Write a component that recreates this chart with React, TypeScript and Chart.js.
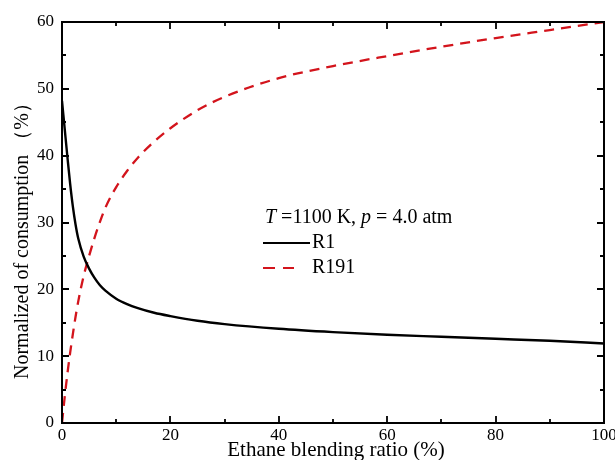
import React, { useEffect, useRef } from "react";
import { Chart, registerables } from "chart.js";
Chart.register(...registerables);

const blendRatio = [0, 0.5, 1, 1.5, 2, 2.5, 3, 4, 5, 6, 7, 8, 10, 12, 14, 17, 20, 25, 30, 40, 50, 60, 70, 80, 90, 100];
const r1Values = [48.2, 44.0, 39.8, 35.8, 32.4, 29.7, 27.6, 24.9, 23.1, 21.7, 20.6, 19.8, 18.6, 17.8, 17.2, 16.5, 16.0, 15.3, 14.8, 14.1, 13.6, 13.2, 12.9, 12.6, 12.3, 11.9];
const r191Values = [0, 3.9, 7.4, 10.5, 13.3, 15.9, 18.2, 22.0, 25.0, 27.7, 30.1, 32.2, 35.3, 37.7, 39.7, 42.1, 44.1, 46.8, 48.8, 51.6, 53.4, 54.9, 56.3, 57.6, 58.8, 60];
const xTicks = [0, 20, 40, 60, 80, 100];
const yTicks = [0, 10, 20, 30, 40, 50, 60];
const seriesNames = ["R1", "R191"];
const xTitle = "Ethane blending ratio (%)";
const yTitle = "Normalized of consumption \uFF08%\uFF09";

const SERIF = "'Liberation Serif', 'Times New Roman', serif";
const RED = "#d3141c";

const framePlugin = {
  id: "frame",
  afterDraw(chart: any) {
    const { ctx, chartArea: a, scales } = chart;
    const xs = scales.x, ys = scales.y;
    ctx.save();
    ctx.strokeStyle = "#000";
    ctx.lineWidth = 2;
    ctx.strokeRect(a.left, a.top, a.right - a.left, a.bottom - a.top);
    ctx.lineWidth = 1.8;
    ctx.beginPath();
    for (let v = 0; v <= 100; v += 10) {
      const px = Math.round(xs.getPixelForValue(v));
      const len = v % 20 === 0 ? 7 : 4;
      ctx.moveTo(px, a.bottom); ctx.lineTo(px, a.bottom - len);
      ctx.moveTo(px, a.top); ctx.lineTo(px, a.top + len);
    }
    for (let v = 0; v <= 60; v += 5) {
      const py = Math.round(ys.getPixelForValue(v));
      const len = v % 10 === 0 ? 7 : 4;
      ctx.moveTo(a.left, py); ctx.lineTo(a.left + len, py);
      ctx.moveTo(a.right, py); ctx.lineTo(a.right - len, py);
    }
    ctx.stroke();

    // axis titles
    ctx.fillStyle = "#000";
    ctx.font = `21px ${SERIF}`;
    ctx.textAlign = "center";
    ctx.textBaseline = "middle";
    ctx.fillText(xTitle, 336, 450);
    ctx.save();
    ctx.translate(23, 236);
    ctx.rotate(-Math.PI / 2);
    ctx.font = `20px ${SERIF}`;
    ctx.fillText(yTitle, 0, 0);
    ctx.restore();

    // legend
    ctx.textAlign = "left";
    let x = 265;
    const ty = 218;
    const parts: [string, boolean][] = [["T", true], [" =1100 K, ", false], ["p", true], [" = 4.0 atm", false]];
    for (const [t, it] of parts) {
      ctx.font = `${it ? "italic " : ""}20px ${SERIF}`;
      ctx.fillText(t, x, ty);
      x += ctx.measureText(t).width;
    }
    ctx.font = `20px ${SERIF}`;
    ctx.lineWidth = 2.2;
    ctx.strokeStyle = "#000";
    ctx.beginPath();
    ctx.moveTo(263, 243); ctx.lineTo(310, 243);
    ctx.stroke();
    ctx.fillText(seriesNames[0], 312, 243);
    ctx.strokeStyle = RED;
    ctx.beginPath();
    ctx.moveTo(263, 268); ctx.lineTo(275, 268);
    ctx.moveTo(283, 268); ctx.lineTo(294, 268);
    ctx.stroke();
    ctx.fillText(seriesNames[1], 312, 268);
    ctx.restore();
  },
};

export default function App() {
  const ref = useRef<HTMLCanvasElement>(null);
  useEffect(() => {
    document.body.style.margin = "0";
    const chart = new Chart(ref.current!, {
      type: "line",
      data: {
        datasets: [
          {
            label: seriesNames[0],
            data: blendRatio.map((x, i) => ({ x, y: r1Values[i] })),
            borderColor: "#000",
            borderWidth: 2.4,
            pointRadius: 0,
            cubicInterpolationMode: "monotone",
            fill: false,
          },
          {
            label: seriesNames[1],
            data: blendRatio.map((x, i) => ({ x, y: r191Values[i] })),
            borderColor: RED,
            borderWidth: 2.3,
            borderDash: [10, 7],
            pointRadius: 0,
            cubicInterpolationMode: "monotone",
            fill: false,
          },
        ],
      },
      options: {
        responsive: false,
        animation: false,
        layout: { padding: { left: 0, top: 22, right: 11, bottom: 0 } },
        plugins: { legend: { display: false }, tooltip: { enabled: false } },
        scales: {
          x: {
            type: "linear",
            min: 0,
            max: 100,
            grid: { display: false, drawTicks: false },
            border: { display: false },
            afterFit: (s: any) => { s.height = 37; s.paddingLeft = 0; s.paddingRight = 0; },
            afterBuildTicks: (s: any) => { s.ticks = xTicks.map((v) => ({ value: v })); },
            ticks: { color: "#000", padding: 2, font: { family: SERIF, size: 17 }, maxRotation: 0 },
          },
          y: {
            type: "linear",
            min: 0,
            max: 60,
            grid: { display: false, drawTicks: false },
            border: { display: false },
            afterFit: (s: any) => { s.width = 62; s.paddingTop = 0; s.paddingBottom = 0; },
            afterBuildTicks: (s: any) => { s.ticks = yTicks.map((v) => ({ value: v })); },
            ticks: { color: "#000", padding: 8, font: { family: SERIF, size: 17 } },
          },
        },
      },
      plugins: [framePlugin],
    } as any);
    return () => chart.destroy();
  }, []);
  return (
    <div style={{ width: 615, height: 460 }}>
      <canvas ref={ref} width={615} height={460} />
    </div>
  );
}
